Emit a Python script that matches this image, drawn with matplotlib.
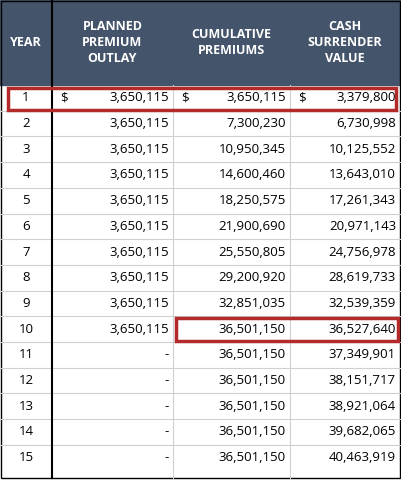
import matplotlib.pyplot as plt
from matplotlib.patches import Rectangle

years = list(range(1, 16))
planned = [3650115] * 10 + [None] * 5
cumulative = [3650115, 7300230, 10950345, 14600460, 18250575, 21900690, 25550805,
              29200920, 32851035, 36501150, 36501150, 36501150, 36501150, 36501150, 36501150]
surrender = [3379800, 6730998, 10125552, 13643010, 17261343, 20971143, 24756978,
             28619733, 32539359, 36527640, 37349901, 38151717, 38921064, 39682065, 40463919]
headers = ["YEAR", "PLANNED\nPREMIUM\nOUTLAY", "CUMULATIVE\nPREMIUMS", "CASH\nSURRENDER\nVALUE"]

col_x = [0, 52, 173, 290, 400]
head_h = 85
row_h = 25.7
navy = "#44546A"
red = "#B22A2A"

plt.rcParams['font.family'] = ['Open Sans', 'DejaVu Sans']
fig = plt.figure(figsize=(4.02, 4.8), dpi=100)
ax = fig.add_axes([0, 0, 1, 1])
ax.set_xlim(0, 402)
ax.set_ylim(480, 0)
ax.axis('off')

ax.add_patch(Rectangle((0, 0), 400, head_h, color=navy))
for i, h in enumerate(headers):
    ax.text((col_x[i] + col_x[i + 1]) / 2, head_h / 2, h, color="white", ha="center",
            va="center", fontsize=9, fontweight="bold", linespacing=1.35)

for r, y in enumerate(years):
    top = head_h + r * row_h
    mid = top + row_h / 2
    if r < len(years) - 1:
        ax.plot([0, 400], [top + row_h, top + row_h], color="#d0d0d0", lw=0.8)
    ax.text(26, mid, str(y), ha="center", va="center", fontsize=9.5)
    vals = [planned[r], cumulative[r], surrender[r]]
    for c, v in enumerate(vals):
        right = col_x[c + 2] - 4
        s = "-" if v is None else f"{v:,}"
        ax.text(right, mid, s, ha="right", va="center", fontsize=9.5)
        if r == 0:
            ax.text(col_x[c + 1] + 8, mid, "$", ha="left", va="center", fontsize=9.5)

for x in col_x[2:4]:
    ax.plot([x, x], [head_h, 478], color="#d0d0d0", lw=0.8)
ax.plot([52, 52], [0, 478], color="black", lw=1.5)
ax.add_patch(Rectangle((1, 1), 399, 477, fill=False, ec="black", lw=1))

ax.add_patch(Rectangle((8, head_h + 3), 388, row_h - 4, fill=False, ec=red, lw=2.5, zorder=5))
ax.add_patch(Rectangle((176, head_h + 9 * row_h + 2), 222, row_h - 3, fill=False, ec=red, lw=2.5, zorder=5))

fig.savefig("out.png", dpi=100)
